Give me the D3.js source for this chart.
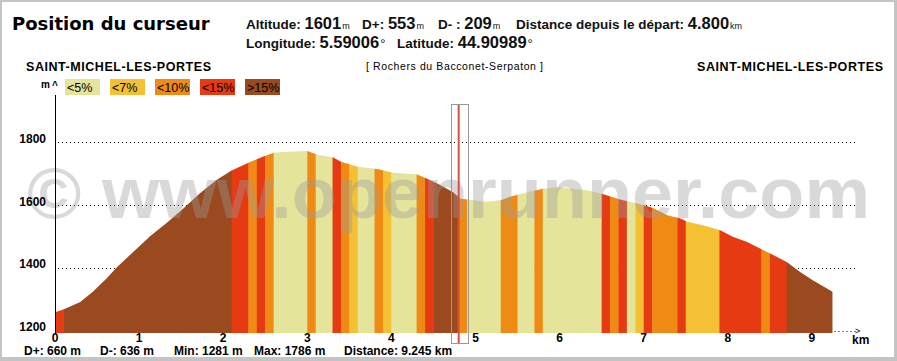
<!DOCTYPE html>
<html>
<head>
<meta charset="utf-8">
<script src="https://cdn.jsdelivr.net/npm/d3@7"></script>
<style>
  html, body { margin: 0; padding: 0; background: #fff; }
  svg { display: block; }
  text { font-family: "Liberation Sans", Arial, sans-serif; }
</style>
</head>
<body>
<svg id="profile"></svg>
<script>
const width = 897, height = 361;

// elevation profile (km, m)
const profileKm = [0, 0.1, 0.3, 0.45, 0.61, 0.73, 0.93, 1.13, 1.33, 1.53, 1.72, 1.92, 2.1, 2.3, 2.47, 2.6, 2.76, 3.0,
    3.12, 3.31, 3.4, 3.6, 3.83, 4.02, 4.3, 4.42, 4.58, 4.73, 4.82, 4.94, 5.14, 5.31, 5.41, 5.56, 5.8, 5.97, 6.16,
    6.36, 6.52, 6.72, 6.96, 7.11, 7.28, 7.43, 7.52, 7.75, 7.91, 8.06, 8.23, 8.42, 8.54, 8.7, 8.86, 9.01, 9.245];
const profileElev = [1259, 1268, 1292, 1324, 1366, 1401, 1451, 1501, 1544, 1590, 1637, 1680, 1710, 1735, 1754, 1767, 1770, 1772,
    1760, 1752, 1738, 1722, 1715, 1703, 1698, 1685, 1664, 1642, 1621, 1616, 1611, 1616, 1627, 1637, 1652, 1657, 1652,
    1646, 1635, 1618, 1603, 1591, 1568, 1558, 1547, 1533, 1520, 1499, 1483, 1457, 1441, 1419, 1387, 1361, 1324];

// slope classes along the route: breaks in km, class index into legend
const gradeBreaks = [0, 0.1, 2.1, 2.3, 2.4, 2.5, 2.6, 3.0, 3.1, 3.3, 3.4, 3.5, 3.6, 3.8, 3.9, 4.0, 4.3, 4.4, 4.5,
    4.8, 4.9, 5.3, 5.5, 5.7, 5.8, 6.5, 6.6, 6.7, 6.8, 6.9, 7.0, 7.1, 7.4, 7.5, 7.9, 8.4, 8.5, 8.7, 9.245];
const gradeClass = [3, 4, 3, 2, 3, 2, 0, 2, 0, 3, 2, 1, 0, 2, 1, 0, 2, 3, 4,
    2, 0, 2, 0, 2, 0, 3, 2, 3, 0, 1, 3, 2, 3, 1, 3, 2, 3, 4];

const legendLabels = ["<5%", "<7%", "<10%", "<15%", ">15%"];
const legendColors = ["#e5e49b", "#f3c133", "#ef8a15", "#e63b12", "#9a4a1e"];

const kmTicks = [0, 1, 2, 3, 4, 5, 6, 7, 8, 9];
const elevTicks = [1200, 1400, 1600, 1800];

const cursorKm = 4.8;
const stats = ["D+: 660 m", "D-: 636 m", "Min: 1281 m", "Max: 1786 m", "Distance: 9.245 km"];
const startName = "SAINT-MICHEL-LES-PORTES", endName = "SAINT-MICHEL-LES-PORTES";
const routeName = "[ Rochers du Bacconet-Serpaton ]";

// cursor readout: [label, value, unit]
const headerLine1 = [["Altitude:", "1601", "m"], ["D+:", "553", "m"], ["D- :", "209", "m"],
    ["Distance depuis le départ:", "4.800", "km"]];
const headerLine2 = [["Longitude:", "5.59006", "°"], ["Latitude:", "44.90989", "°"]];

const svg = d3.select("#profile").attr("width", width).attr("height", height);

// frame
svg.append("rect").attr("width", width).attr("height", height).attr("fill", "#c4c4c4");
svg.append("rect").attr("x", 2).attr("y", 2).attr("width", width - 5).attr("height", height - 6).attr("fill", "#fff");

const x = d3.scaleLinear().domain([0, 9]).range([55, 55 + 84.1 * 9]);
const y = d3.scaleLinear().domain([1200, 1800]).range([330.8, 142.3]);
const baseY = 333;

// dotted grid
svg.append("g")
  .selectAll("line")
  .data(elevTicks.slice(1))
  .join("line")
    .attr("x1", 58).attr("x2", 855)
    .attr("y1", d => Math.round(y(d)) + 0.5).attr("y2", d => Math.round(y(d)) + 0.5)
    .attr("stroke", "#000")
    .attr("stroke-dasharray", "1,3");

// profile, coloured by slope class
const pts = profileKm.map((k, i) => [k, profileElev[i]]);
const area = d3.area()
    .x(d => x(d[0]))
    .y0(baseY)
    .y1(d => y(d[1]));

svg.append("clipPath").attr("id", "profile-clip")
  .append("path").attr("d", area(pts));

const segs = gradeClass.map((c, i) => ({a: gradeBreaks[i], b: gradeBreaks[i + 1], c: c}));
svg.append("g")
    .attr("clip-path", "url(#profile-clip)")
  .selectAll("rect")
  .data(segs)
  .join("rect")
    .attr("x", d => x(d.a))
    .attr("width", d => x(d.b) - x(d.a) + 0.4)
    .attr("y", 100)
    .attr("height", baseY - 100)
    .attr("fill", d => legendColors[d.c]);

// watermark
svg.append("text")
    .attr("x", 27).attr("y", 218)
    .attr("textLength", 843).attr("lengthAdjust", "spacingAndGlyphs")
    .style("font-size", "73px").style("font-weight", "bold")
    .attr("fill", "#9c9c9c").attr("fill-opacity", 0.38)
    .text("\u00a9 www.openrunner.com");

// y axis
svg.append("line").attr("x1", 55.5).attr("x2", 55.5).attr("y1", 95).attr("y2", baseY)
    .attr("stroke", "#000");
svg.append("text").attr("x", 41).attr("y", 88).style("font-size", "10px").style("font-weight", "bold").text("m");
svg.append("text").attr("x", 52).attr("y", 89).style("font-size", "10px").style("font-weight", "bold").text("^");

svg.append("g")
  .selectAll("text")
  .data(elevTicks)
  .join("text")
    .attr("x", 46).attr("y", d => y(d) + 0.5)
    .attr("text-anchor", "end")
    .style("font-size", "12px").style("font-weight", "bold")
    .text(d => d);

// x axis
svg.append("g")
  .selectAll("text")
  .data(kmTicks)
  .join("text")
    .attr("x", d => x(d)).attr("y", 342)
    .attr("text-anchor", "middle")
    .style("font-size", "12px").style("font-weight", "bold")
    .text(d => d);
svg.append("line").attr("x1", x(9.245) + 2).attr("x2", 856).attr("y1", 331.5).attr("y2", 331.5)
    .attr("stroke", "#000").attr("stroke-dasharray", "1,3");
svg.append("text").attr("x", 855).attr("y", 334).style("font-size", "9px").text(">");
svg.append("text").attr("x", 852).attr("y", 344).style("font-size", "12px").style("font-weight", "bold").text("km");

// stats line
const statsX = [24, 100, 174, 254, 344];
svg.append("g")
  .selectAll("text")
  .data(stats)
  .join("text")
    .attr("x", (d, i) => statsX[i]).attr("y", 354.5)
    .style("font-size", "12px").style("font-weight", "bold")
    .text(d => d);

// cursor
svg.append("rect")
    .attr("x", 451.5).attr("y", 104.5).attr("width", 17).attr("height", 239)
    .attr("fill", "none").attr("stroke", "#9a9a9a");
svg.append("line")
    .attr("x1", x(cursorKm)).attr("x2", x(cursorKm))
    .attr("y1", 105).attr("y2", 343)
    .attr("stroke", "#d9503f").attr("stroke-width", 2);

// legend
const lg = svg.append("g").selectAll("g").data(legendLabels).join("g")
    .attr("transform", (d, i) => `translate(${65 + i * 45},79)`);
lg.append("rect").attr("width", 35).attr("height", 16).attr("fill", (d, i) => legendColors[i]);
lg.append("text").attr("x", 2).attr("y", 13).style("font-size", "12.5px").text(d => d);

// place names
svg.append("text").attr("x", 26).attr("y", 71).attr("textLength", 185)
    .style("font-size", "12.5px").style("font-weight", "bold").text(startName);
svg.append("text").attr("x", 697).attr("y", 71).attr("textLength", 186)
    .style("font-size", "12.5px").style("font-weight", "bold").text(endName);
svg.append("text").attr("x", 366).attr("y", 70).attr("textLength", 177)
    .style("font-size", "10.5px").text(routeName);

// header
svg.append("text").attr("x", 12).attr("y", 30)
    .style("font-family", "'DejaVu Sans', Verdana, sans-serif")
    .style("font-size", "18px").style("font-weight", "bold")
    .text("Position du curseur");

function header(items, xs, yy) {
  items.forEach((it, i) => {
    const t = svg.append("text").attr("x", xs[i]).attr("y", yy).attr("fill", "#111");
    t.append("tspan").style("font-size", "13.5px").style("font-weight", "bold").text(it[0] + " ");
    t.append("tspan").style("font-size", "16.5px").style("font-weight", "bold").text(it[1]);
    t.append("tspan").style("font-size", it[2] == "°" ? "13px" : "9px").attr("dx", 1).text(it[2]);
  });
}
header(headerLine1, [246, 362, 438, 516], 29);
header(headerLine2, [246, 397], 48);
</script>
</body>
</html>
